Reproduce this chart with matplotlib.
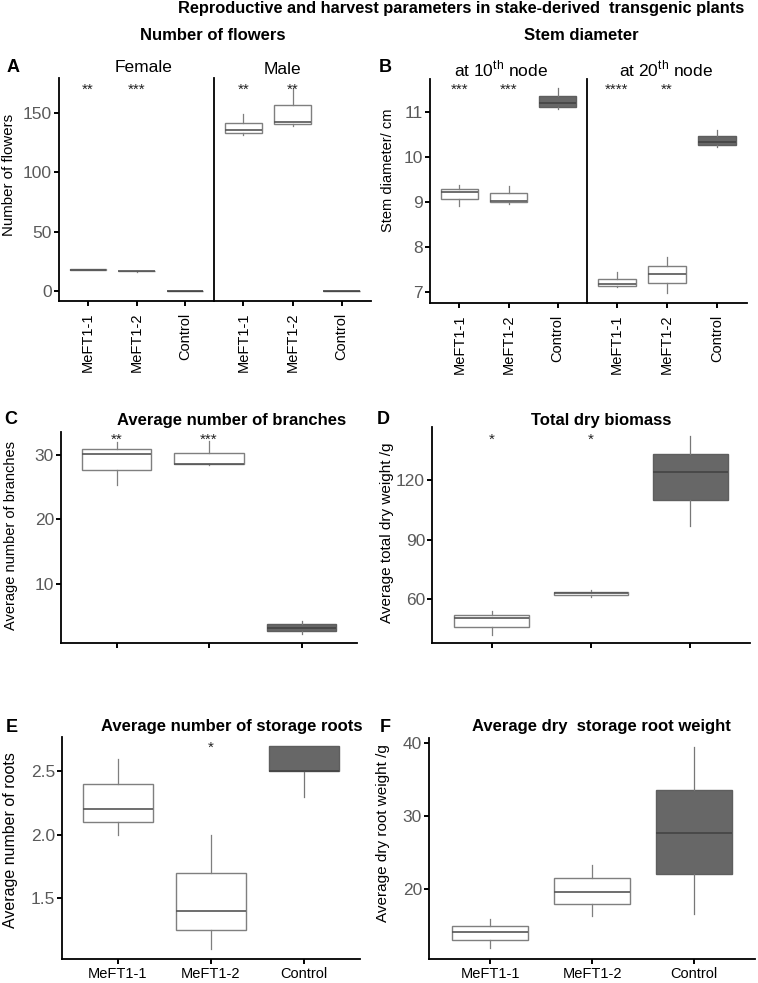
import matplotlib
matplotlib.use('Agg')
import matplotlib.pyplot as plt

plt.rcParams['font.family'] = ['Liberation Sans', 'DejaVu Sans']
plt.rcParams['mathtext.fontset'] = 'custom'
plt.rcParams['mathtext.rm'] = 'Liberation Sans'

# ---------------- data (five-number summaries: whislo, q1, median, q3, whishi) ----------------
groups = ['MeFT1-1', 'MeFT1-2', 'Control']

flowers_female = [(17.6, 18.1, 18.3, 18.5, 18.6), (16.7, 16.9, 17.0, 17.2, 17.3), (0, 0, 0, 0, 0)]
flowers_male = [(131.5, 133.1, 135.1, 141.6, 149.2), (138.8, 140.7, 142.4, 156.7, 170.2), (0, 0, 0, 0, 0)]
flowers_female_sig = ['**', '***', '']
flowers_male_sig = ['**', '**', '']

stem_10th = [(8.91, 9.06, 9.21, 9.28, 9.38), (8.96, 9.00, 9.02, 9.19, 9.36), (11.05, 11.11, 11.18, 11.35, 11.52)]
stem_20th = [(7.11, 7.14, 7.18, 7.30, 7.44), (6.99, 7.20, 7.41, 7.59, 7.78), (10.22, 10.25, 10.32, 10.45, 10.59)]
stem_10th_sig = ['***', '***', '']
stem_20th_sig = ['****', '**', '']

branches = [(25.4, 27.7, 30.15, 30.9, 32.0), (28.5, 28.6, 28.7, 30.36, 32.2), (2.2, 2.7, 3.2, 3.7, 4.15)]
branches_sig = ['**', '***', '']

biomass = [(41.9, 46.0, 50.4, 52.0, 54.1), (61.0, 62.2, 63.0, 63.7, 64.5), (96.7, 110.0, 123.9, 133.0, 142.4)]
biomass_sig = ['*', '*', '']

roots_number = [(2.0, 2.1, 2.2, 2.4, 2.6), (1.1, 1.25, 1.4, 1.7, 2.0), (2.3, 2.5, 2.5, 2.7, 2.7)]
roots_number_sig = ['', '*', '']

root_weight = [(11.9, 13.0, 14.2, 15.0, 15.9), (16.4, 17.95, 19.6, 21.5, 23.3), (16.6, 22.1, 27.67, 33.56, 39.5)]

# ---------------- layout ----------------
W, H = 758, 983
fig = plt.figure(figsize=(W / 100, H / 100), dpi=100)


def ax_px(l, t, r, b):
    return fig.add_axes([l / W, 1 - b / H, (r - l) / W, (b - t) / H])


def ftext(x, y, s, **kw):
    fig.text(x / W, 1 - y / H, s, **kw)


EDGE = '#7f7f7f'
CTRL = '#676767'
TICKGRAY = '#5a5a5a'


def draw_boxes(ax, data, sig, star_y, ylim, yticks, xlabels=None, rotate=False, left_axis=True):
    stats = [dict(whislo=d[0], q1=d[1], med=d[2], q3=d[3], whishi=d[4], fliers=[]) for d in data]
    bp = ax.bxp(stats, positions=[0, 1, 2], widths=0.75, patch_artist=True,
                showcaps=False, showfliers=False,
                boxprops=dict(edgecolor=EDGE, linewidth=1.0),
                whiskerprops=dict(color=EDGE, linewidth=0.9),
                medianprops=dict(color='#555555', linewidth=1.2))
    for i, patch in enumerate(bp['boxes']):
        if groups[i] == 'Control':
            patch.set_facecolor(CTRL)
            patch.set_edgecolor('#5e5e5e')
            bp['medians'][i].set_color('#444444')
            bp['whiskers'][2 * i].set_color('#777777')
            bp['whiskers'][2 * i + 1].set_color('#777777')
        else:
            patch.set_facecolor('white')
    for i, s in enumerate(sig):
        if s:
            ax.annotate(s, (i, star_y), xytext=(0, -3), textcoords='offset points',
                        ha='center', va='center', fontsize=11, color='#222222')
    ax.set_xlim(-0.6, 2.6)
    ax.set_ylim(*ylim)
    ax.set_yticks(yticks)
    for side in ['top', 'right']:
        ax.spines[side].set_visible(False)
    for side in ['left', 'bottom']:
        ax.spines[side].set_linewidth(1.3)
        ax.spines[side].set_color('black')
    ax.tick_params(axis='both', length=3.5, width=1.4, color='black')
    ax.tick_params(axis='y', labelsize=12.5, labelcolor=TICKGRAY, pad=1.5)
    ax.set_xticks([0, 1, 2])
    if xlabels is None:
        ax.set_xticklabels([])
    elif rotate:
        ax.set_xticklabels(xlabels, rotation=90, fontsize=10.5, color='black')
        ax.tick_params(axis='x', pad=5)
    else:
        ax.set_xticklabels(xlabels, fontsize=10.5, color='black')
        ax.tick_params(axis='x', pad=2)
    if not left_axis:
        ax.tick_params(axis='y', length=0, labelleft=False)


# Panel A
axA1 = ax_px(59, 78, 214, 301)
axA2 = ax_px(214, 78, 371, 301)
draw_boxes(axA1, flowers_female, flowers_female_sig, 173, (-8, 179), [0, 50, 100, 150], groups, rotate=True)
draw_boxes(axA2, flowers_male, flowers_male_sig, 173, (-8, 179), [0, 50, 100, 150], groups, rotate=True, left_axis=False)

# Panel B
axB1 = ax_px(430, 79, 587, 303)
axB2 = ax_px(587, 79, 747, 303)
draw_boxes(axB1, stem_10th, stem_10th_sig, 11.57, (6.76, 11.72), [7, 8, 9, 10, 11], groups, rotate=True)
draw_boxes(axB2, stem_20th, stem_20th_sig, 11.57, (6.76, 11.72), [7, 8, 9, 10, 11], groups, rotate=True, left_axis=False)

# Panel C
axC = ax_px(61, 432, 357, 643)
draw_boxes(axC, branches, branches_sig, 33.05, (0.8, 33.6), [10, 20, 30])

# Panel D
axD = ax_px(432, 427, 750, 643)
draw_boxes(axD, biomass, biomass_sig, 142.4, (37.8, 146.8), [60, 90, 120])

# Panel E
axE = ax_px(62, 737, 360, 959)
draw_boxes(axE, roots_number, roots_number_sig, 2.72, (1.02, 2.77), [1.5, 2.0, 2.5], groups)
axE.set_yticklabels(['1.5', '2.0', '2.5'])

# Panel F
axF = ax_px(429, 738, 755, 959)
draw_boxes(axF, root_weight, ['', '', ''], 40, (10.46, 40.7), [20, 30, 40], groups)

# ---------------- texts ----------------
ftext(461, 9, 'Reproductive and harvest parameters in stake-derived  transgenic plants',
      ha='center', va='center', fontsize=11.8, fontweight='bold')
ftext(213, 35, 'Number of flowers', ha='center', va='center', fontsize=12, fontweight='bold')
ftext(581, 35, 'Stem diameter', ha='center', va='center', fontsize=12, fontweight='bold')

ftext(144, 67, 'Female', ha='center', va='center', fontsize=12.5)
ftext(282, 69, 'Male', ha='center', va='center', fontsize=12.5)
ftext(501, 69, 'at 10$^{\\mathrm{th}}$ node', ha='center', va='center', fontsize=12.5)
ftext(666, 69, 'at 20$^{\\mathrm{th}}$ node', ha='center', va='center', fontsize=12.5)

ftext(232, 420, 'Average number of branches', ha='center', va='center', fontsize=12, fontweight='bold')
ftext(601, 420, 'Total dry biomass', ha='center', va='center', fontsize=12, fontweight='bold')
ftext(232, 727, 'Average number of storage roots', ha='center', va='center', fontsize=12, fontweight='bold')
ftext(601, 727, 'Average dry  storage root weight', ha='center', va='center', fontsize=12, fontweight='bold')

for letter, x, y in [('A', 13, 67), ('B', 385, 67), ('C', 11, 420), ('D', 383, 420), ('E', 12, 727), ('F', 385, 727)]:
    ftext(x, y, letter, ha='center', va='center', fontsize=13, fontweight='bold')

ftext(9, 175, 'Number of flowers', rotation=90, ha='center', va='center', fontsize=10.8)
ftext(388, 170, 'Stem diameter/ cm', rotation=90, ha='center', va='center', fontsize=10.5)
ftext(11, 535, 'Average number of branches', rotation=90, ha='center', va='center', fontsize=10.5)
ftext(387, 533, 'Average total dry weight /g', rotation=90, ha='center', va='center', fontsize=11)
ftext(11, 840, 'Average number of roots', rotation=90, ha='center', va='center', fontsize=11.5)
ftext(383, 833, 'Average dry root weight /g', rotation=90, ha='center', va='center', fontsize=11)

fig.savefig('out.png', dpi=100)
